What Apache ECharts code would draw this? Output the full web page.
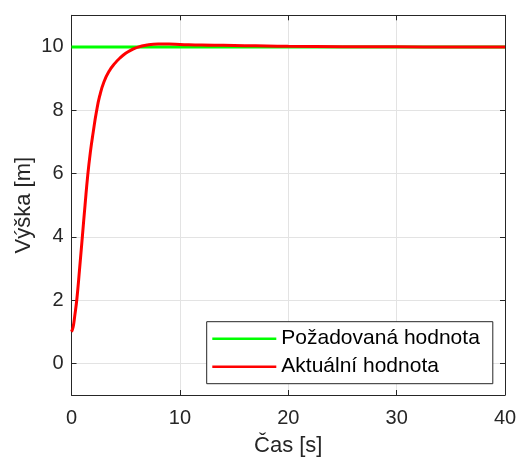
<!DOCTYPE html>
<html>
<head>
<meta charset="utf-8">
<script src="https://cdn.jsdelivr.net/npm/echarts@6/dist/echarts.min.js"></script>
<style>
html,body{margin:0;padding:0;background:#fff;}
#chart{width:518px;height:457px;}
</style>
</head>
<body>
<div id="chart"></div>
<script>
// Data
const timeValues = [0, 0.15, 0.3, 0.5, 0.75, 1.0, 1.25, 1.5, 1.75, 2.0, 2.3, 2.6, 3.0, 3.5, 4.0, 4.5, 5.0, 5.5, 6.0, 7.0, 8.0, 9.0, 10, 12, 14, 16, 18, 20, 25, 30, 35, 40];
const actualHeight = [1.0, 1.15, 1.5, 2.05, 3.0, 4.0, 5.0, 5.95, 6.7, 7.3, 7.95, 8.45, 8.9, 9.25, 9.48, 9.66, 9.8, 9.9, 9.98, 10.06, 10.09, 10.09, 10.08, 10.06, 10.05, 10.04, 10.03, 10.02, 10.01, 10.005, 10.0, 10.0];
const setpointTime = [0, 40];
const setpointHeight = [10, 10];
const xTicks = [0, 10, 20, 30, 40];
const yTicks = [0, 2, 4, 6, 8, 10];
const seriesNames = ['Požadovaná hodnota', 'Aktuální hodnota'];
const xName = 'Čas [s]';
const yName = 'Výška [m]';

const FONT = '"Liberation Sans", Arial, Helvetica, sans-serif';
const AX = '#262626';
const GRIDC = '#e3e3e3';

const chart = echarts.init(document.getElementById('chart'), null, {renderer: 'canvas'});

const zip = (a, b) => a.map((v, i) => [v, b[i]]);

const baseAxisLine = {show: true, onZero: false, lineStyle: {color: AX, width: 1}};

const option = {
  animation: false,
  backgroundColor: '#fff',
  grid: {left: 71.5, right: 13, top: 15.3, bottom: 62, containLabel: false, outerBoundsMode: 'none'},
  xAxis: [
    {
      type: 'value', min: 0, max: 40, interval: 10, position: 'bottom',
      name: xName, nameLocation: 'middle', nameGap: 39.5, nameMoveOverlap: false,
      nameTextStyle: {fontFamily: FONT, fontSize: 22, color: AX},
      axisLine: baseAxisLine,
      axisTick: {show: true, inside: true, length: 5, lineStyle: {color: AX}, customValues: xTicks},
      axisLabel: {show: true, fontFamily: FONT, fontSize: 20, color: AX, margin: 13, customValues: xTicks},
      splitLine: {show: true, lineStyle: {color: GRIDC, width: 1}}
    },
    {
      type: 'value', min: 0, max: 40, interval: 10, position: 'top',
      axisLine: baseAxisLine,
      axisTick: {show: true, inside: true, length: 5, lineStyle: {color: AX}, customValues: xTicks},
      axisLabel: {show: false},
      splitLine: {show: false}
    }
  ],
  yAxis: [
    {
      type: 'value', min: -1, max: 11, interval: 1, position: 'left',
      name: yName, nameLocation: 'middle', nameGap: 37, nameRotate: 90, nameMoveOverlap: false,
      nameTextStyle: {fontFamily: FONT, fontSize: 22, color: AX},
      axisLine: baseAxisLine,
      axisTick: {show: true, inside: true, length: 5, lineStyle: {color: AX}, customValues: yTicks},
      axisLabel: {show: true, fontFamily: FONT, fontSize: 20, color: AX, margin: 8, customValues: yTicks},
      splitLine: {show: true, lineStyle: {color: GRIDC, width: 1}}
    },
    {
      type: 'value', min: -1, max: 11, interval: 1, position: 'right',
      axisLine: baseAxisLine,
      axisTick: {show: true, inside: true, length: 5, lineStyle: {color: AX}, customValues: yTicks},
      axisLabel: {show: false},
      splitLine: {show: false}
    }
  ],
  legend: {
    show: true,
    orient: 'vertical',
    left: 206.7, top: 321.7,
    padding: [6, 13, 6, 5.6],
    icon: 'rect',
    itemWidth: 64, itemHeight: 2.5, itemGap: 6, itemTextGap: 4,
    borderColor: AX, borderWidth: 1, backgroundColor: '#fff',
    textStyle: {fontFamily: FONT, fontSize: 21, color: '#000', lineHeight: 22},
    data: seriesNames
  },
  series: [
    {
      name: seriesNames[0], type: 'line', data: zip(setpointTime, setpointHeight),
      symbol: 'none', showSymbol: false,
      lineStyle: {color: '#00ff00', width: 3}, itemStyle: {color: '#00ff00'},
      z: 2
    },
    {
      name: seriesNames[1], type: 'line', data: zip(timeValues, actualHeight),
      symbol: 'none', showSymbol: false, smooth: 0.5,
      lineStyle: {color: '#ff0000', width: 3}, itemStyle: {color: '#ff0000'},
      z: 3
    }
  ]
};
chart.setOption(option);
</script>
</body>
</html>
